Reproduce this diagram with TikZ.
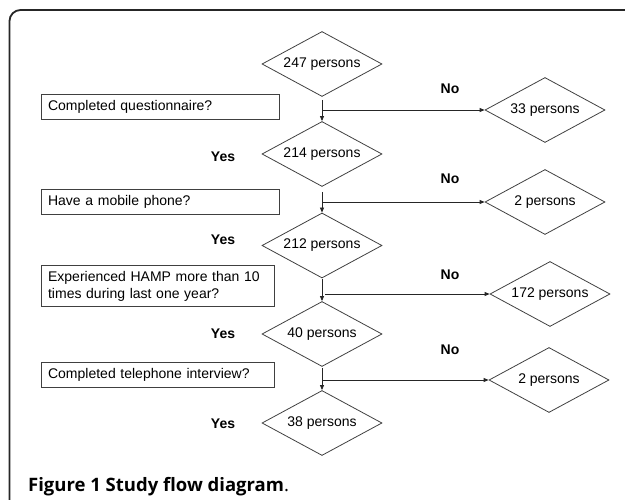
\documentclass[tikz,border=0pt]{standalone}
\usepackage{fontspec}
\setmainfont{Liberation Sans}
\newfontfamily\capfont{Open Sans}
\usetikzlibrary{shapes.geometric,arrows.meta}
\definecolor{linegray}{HTML}{404040}
\tikzset{
  dia/.style={draw=linegray, line width=0.8pt, shape=diamond, minimum width=120pt, minimum height=65pt, inner sep=0pt, aspect=1.85, font=\fontsize{14}{16}\selectfont},
  qbox/.style={draw=linegray, line width=0.8pt, rectangle, anchor=north west, inner xsep=7pt, inner ysep=0pt, align=left, font=\fontsize{14}{17}\selectfont},
  yn/.style={font=\fontsize{14}{16}\selectfont\bfseries},
  arr/.style={draw=black!85, line width=0.8pt, -{Triangle[length=5pt,width=4pt]}},
  frame/.style={draw=black!85, line width=1.8pt, rounded corners=11pt}
}
\begin{document}
\begin{tikzpicture}[x=1pt,y=-1pt]
\useasboundingbox (0,0) rectangle (625,500);
% frame
\draw[frame] (9.5,501) -- (9.5,10) -- (626,10);
% main diamonds
\node[dia] (d247) at (322,64) {247 persons};
\node[dia] (d214) at (322,154) {214 persons};
\node[dia] (d212) at (322,245.5) {212 persons};
\node[dia] (d40) at (322,334) {40 persons};
\node[dia] (d38) at (322,423) {38 persons};
% right diamonds
\node[dia] (r33) at (545,110) {33 persons};
\node[dia] (r2a) at (545,202) {2 persons};
\node[dia] (r172) at (550,294) {172 persons};
\node[dia] (r2b) at (549,380) {2 persons};
% question boxes
\node[qbox, text width=224.6pt, minimum height=25pt] (q1) at (40.7,94.3) {Completed questionnaire?};
\node[qbox, text width=224.6pt, minimum height=25pt] (q2) at (40.7,189.3) {Have a mobile phone?};
\node[qbox, text width=219.3pt, minimum height=41pt] (q3) at (40.7,265) {Experienced HAMP more than 10\\times during last one year?};
\node[qbox, text width=219.3pt, minimum height=25pt] (q4) at (40.7,361.7) {Completed telephone interview?};
% junctions
\coordinate (j1) at (322,110);
\coordinate (j2) at (322,202);
\coordinate (j3) at (322,294);
\coordinate (j4) at (322,380);
% vertical arrows
\draw[arr] ([yshift=-3pt]d247.south) -- (d214.north);
\draw[arr] ([yshift=-5pt]d214.south) -- (d212.north);
\draw[arr] ([yshift=-1pt]d212.south) -- (d40.north);
\draw[arr] ([yshift=-1pt]d40.south) -- (d38.north);
% horizontal arrows
\draw[arr] (j1) -- (r33.west);
\draw[arr] (j2) -- (r2a.west);
\draw[arr] ([xshift=3pt]j3) -- (r172.west);
\draw[arr] (j4) -- (r2b.west);
% labels
\node[yn] (y1) at (223,157) {Yes};
\node[yn] (y2) at (223,240) {Yes};
\node[yn] (y3) at (223,333.5) {Yes};
\node[yn] (y4) at (223,423.5) {Yes};
\node[yn] (n1) at (450,89) {No};
\node[yn] (n2) at (450,179) {No};
\node[yn] (n3) at (450,275) {No};
\node[yn] (n4) at (450,349.5) {No};
% caption
\node[anchor=base west, inner sep=0pt, font=\capfont\fontsize{18.5}{20}\selectfont] (cap) at (28,491.7) {\textbf{Figure 1 Study flow diagram}.};
\end{tikzpicture}
\end{document}
